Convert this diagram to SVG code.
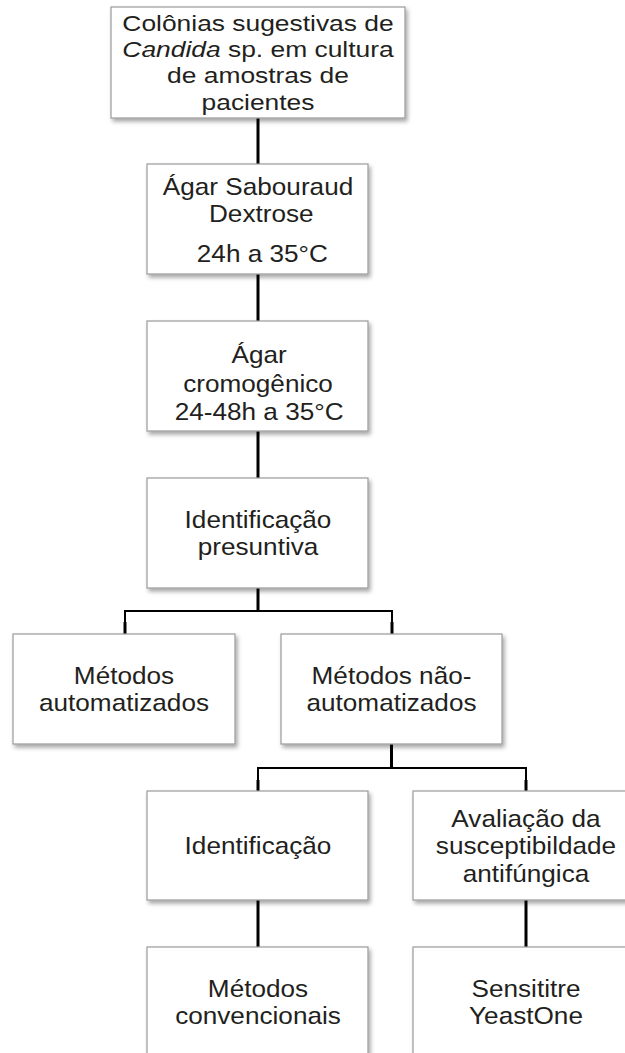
<svg xmlns="http://www.w3.org/2000/svg" width="625" height="1053" viewBox="0 0 625 1053">
<style>
.box{fill:#fff;stroke:#9a9a9a;stroke-width:1.2;filter:url(#sh)}
.t{font-family:"Liberation Sans",Arial,sans-serif;font-size:24px;fill:#231f20;text-anchor:middle}
.t1{font-family:"Liberation Sans",Arial,sans-serif;font-size:22px;fill:#231f20;text-anchor:middle}
.v{stroke:#000;stroke-width:3;fill:none}
.h{stroke:#000;stroke-width:2;fill:none}
</style>
<defs>
<filter id="sh" x="-10%" y="-10%" width="130%" height="130%">
<feDropShadow dx="2" dy="3" stdDeviation="2" flood-color="#000" flood-opacity="0.35"/>
</filter>
</defs>
<rect width="625" height="1053" fill="#fff"/>
<g id="connectors">
<line class="v" x1="258" y1="118" x2="258" y2="164"/>
<line class="v" x1="258" y1="274" x2="258" y2="321"/>
<line class="v" x1="258" y1="431" x2="258" y2="478"/>
<line class="v" x1="258" y1="588" x2="258" y2="611"/>
<polyline class="h" points="125,634 125,611 392,611 392,634"/>
<line class="v" x1="125" y1="622" x2="125" y2="634"/>
<line class="v" x1="392" y1="622" x2="392" y2="634"/>
<line class="v" x1="391.5" y1="744" x2="391.5" y2="768"/>
<polyline class="h" points="258,791 258,768 526,768 526,791"/>
<line class="v" x1="258" y1="780" x2="258" y2="791"/>
<line class="v" x1="526" y1="780" x2="526" y2="791"/>
<line class="v" x1="258" y1="900" x2="258" y2="947"/>
<line class="v" x1="526" y1="900" x2="526" y2="947"/>
</g>
<g id="n1">
<rect class="box" x="111" y="7" width="294" height="111"/>
<g transform="translate(258 0) scale(1.2 1)">
<text class="t1" x="0" y="31">Colônias sugestivas de</text>
<text class="t1" x="0" y="57"><tspan font-style="italic">Candida</tspan> sp. em cultura</text>
<text class="t1" x="0" y="83">de amostras de</text>
<text class="t1" x="0" y="110">pacientes</text>
</g>
</g>
<g id="n2">
<rect class="box" x="147" y="164" width="221" height="110"/>
<g transform="translate(258 0) scale(1.09 1)">
<text class="t" x="0" y="195">Ágar Sabouraud</text>
<text class="t" x="3" y="222">Dextrose</text>
<text class="t" x="4" y="262">24h a 35°C</text>
</g>
</g>
<g id="n3">
<rect class="box" x="147" y="321" width="221" height="110"/>
<g transform="translate(258 0) scale(1.09 1)">
<text class="t" x="1" y="363">Ágar</text>
<text class="t" x="0" y="392">cromogênico</text>
<text class="t" x="1" y="420">24-48h a 35°C</text>
</g>
</g>
<g id="n4">
<rect class="box" x="147" y="478" width="221" height="110"/>
<g transform="translate(258 0) scale(1.09 1)">
<text class="t" x="0" y="528">Identificação</text>
<text class="t" x="0" y="555">presuntiva</text>
</g>
</g>
<g id="n5">
<rect class="box" x="13" y="634" width="222" height="110"/>
<g transform="translate(124 0) scale(1.09 1)">
<text class="t" x="0" y="684">Métodos</text>
<text class="t" x="0" y="711">automatizados</text>
</g>
</g>
<g id="n6">
<rect class="box" x="281" y="634" width="221" height="110"/>
<g transform="translate(391.5 0) scale(1.09 1)">
<text class="t" x="0" y="684">Métodos não-</text>
<text class="t" x="0" y="711">automatizados</text>
</g>
</g>
<g id="n7">
<rect class="box" x="147" y="791" width="221" height="109"/>
<g transform="translate(258 0) scale(1.09 1)">
<text class="t" x="0" y="854">Identificação</text>
</g>
</g>
<g id="n8">
<rect class="box" x="413" y="791" width="226" height="109"/>
<g transform="translate(526 0) scale(1.09 1)">
<text class="t" x="0" y="827">Avaliação da</text>
<text class="t" x="0" y="854">susceptibildade</text>
<text class="t" x="0" y="882">antifúngica</text>
</g>
</g>
<g id="n9">
<rect class="box" x="147" y="947" width="221" height="112"/>
<g transform="translate(258 0) scale(1.09 1)">
<text class="t" x="0" y="997">Métodos</text>
<text class="t" x="0" y="1024">convencionais</text>
</g>
</g>
<g id="n10">
<rect class="box" x="413" y="947" width="226" height="112"/>
<g transform="translate(526 0) scale(1.09 1)">
<text class="t" x="0" y="997">Sensititre</text>
<text class="t" x="0" y="1024">YeastOne</text>
</g>
</g>
</svg>
